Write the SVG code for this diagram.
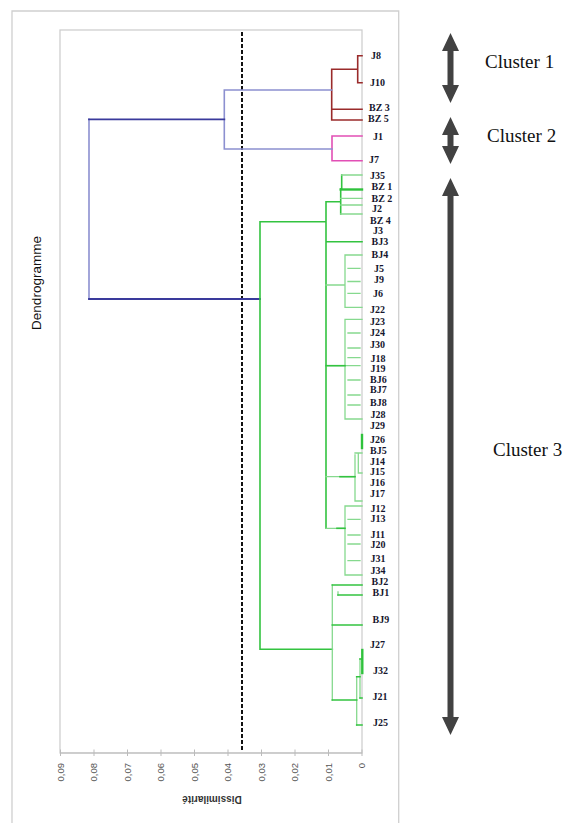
<svg xmlns="http://www.w3.org/2000/svg" width="572" height="823" viewBox="0 0 572 823">
<style>
.frame{fill:none;stroke:#cfcfcf;stroke-width:1.3}
.ln{fill:none;stroke-linecap:square}
.r{stroke:#9a2b2b;stroke-width:1.6}
.p{stroke:#e24fb5;stroke-width:1.6}
.b{stroke:#8c90d0;stroke-width:1.6}
.bd{stroke:#3a3a9c;stroke-width:1.8}
.g{stroke:#33c340;stroke-width:1.6}
.gl{stroke:#86d98e;stroke-width:1.3}
.gt{stroke:#2fc23c;stroke-width:2.4}
.leaf{font-family:"Liberation Serif","Times New Roman",serif;font-size:10px;font-weight:bold;fill:#16162e}
.tick{font-family:"Liberation Sans",Arial,sans-serif;font-size:9.5px;fill:#555}
.cl{font-family:"Liberation Serif","Times New Roman",serif;font-size:19px;fill:#111}
.arr{fill:#424242}
</style>
<g id="frames">
<path class="frame" d="M12,823 V11 H398.7 V823"/>
<rect class="frame" x="60" y="30" width="302" height="723"/>
</g>
<g id="axis">
<path d="M60,753 H362 M60.5,749.5 V756 M94,749.5 V756 M127.5,749.5 V756 M161,749.5 V756 M194.5,749.5 V756 M228,749.5 V756 M261.5,749.5 V756 M295,749.5 V756 M328.5,749.5 V756 M362,749.5 V756" stroke="#bbb" stroke-width="1" fill="none"/>
<g class="tick" text-anchor="end">
<text transform="translate(60.5,763) rotate(-90)" y="3">0,09</text>
<text transform="translate(94,763) rotate(-90)" y="3">0,08</text>
<text transform="translate(127.5,763) rotate(-90)" y="3">0,07</text>
<text transform="translate(161,763) rotate(-90)" y="3">0,06</text>
<text transform="translate(194.5,763) rotate(-90)" y="3">0,05</text>
<text transform="translate(228,763) rotate(-90)" y="3">0,04</text>
<text transform="translate(261.5,763) rotate(-90)" y="3">0,03</text>
<text transform="translate(295,763) rotate(-90)" y="3">0,02</text>
<text transform="translate(328.5,763) rotate(-90)" y="3">0,01</text>
<text transform="translate(362,763) rotate(-90)" y="3">0</text>
</g>
<text transform="translate(212,796) rotate(180)" text-anchor="middle" font-family="Liberation Sans,Arial,sans-serif" font-size="10" font-weight="bold" fill="#333">Dissimilarité</text>
<text transform="translate(41,283) rotate(-90)" text-anchor="middle" font-family="Liberation Sans,Arial,sans-serif" font-size="13.5" fill="#111">Dendrogramme</text>
</g>
<line x1="242" y1="32" x2="242" y2="752" stroke="#111" stroke-width="2" stroke-dasharray="4,2"/>
<g id="connectors" class="ln">
<path class="r" d="M357.7,55.7 H362 M357.7,82.7 H362 M357.7,55.7 V82.7 M331.7,69.3 H357.7 M331.7,69.3 V120 M331.7,109.3 H362 M331.7,120 H362"/>
<path class="p" d="M332,136 H362 M332,160.7 H362 M332,136 V160.7"/>
<path class="b" d="M224.3,90 H331.7 M224.3,149 H332 M224.3,90 V149 M89,119.3 V299"/>
<path class="bd" d="M89,119.3 H224.3 M89,299 H260"/>
<path class="g" d="M260,221.7 V649.3 M260,221.7 H326 M260,649.3 H332.3 M326,201.7 V528.3 M326,241.7 H362 M326,201.7 H340.7 M340.7,189 V214 M341.7,175 V189"/>
<path class="gl" d="M341.7,175 H362 M340.7,198.3 H362 M340.7,205 H362 M340.7,214 H362"/>
<path class="gt" d="M340.7,189.5 H362"/>
<path class="gl" d="M326,285 H345 M345,255 V307.3 M345,255 H362 M345,307.3 H362 M348,268.3 H360 M348,281.5 H360 M348,293.3 H360"/>
<path class="gl" d="M326,365.7 H360 M345,319.3 V419 M345,319.3 H362 M345,419 H362 M348,333 H360 M348,348 H360 M348,357.7 H360 M348,380 H360 M348,395 H360 M348,405 H360"/>
<path class="g" d="M326,365.7 H345"/>
<path class="gt" d="M362,435 V448"/>
<path class="gl" d="M358.3,453 V473 M355,453 H362 M358.3,473 H362 M355,455 V501 M355,501 H362 M326,476.7 H355"/>
<path class="g" d="M340,476.7 H355"/>
<path class="gl" d="M326,528.3 H345 M345,506 V575 M345,506 H362 M345,575 H362 M348,519.3 H360 M348,535 H360 M348,544 H360 M348,560.7 H360"/>
<path class="g" d="M337,528.3 H345"/>
<path class="gl" d="M332.3,585 V700 M356.7,676.7 V725 M360,659 V698 M338,592 V595"/>
<path class="g" d="M332.3,585 H362 M338,595 H362 M332.3,625 H362 M332.3,700 H356.7 M356.7,725 H362 M356.7,676.7 H360 M360,698 H362 M360,659 H362"/>
<path class="gt" d="M362.3,650 V673"/>
</g>
<g id="leaves" class="leaf">
<g id="leaf-J8"><text x="371" y="58.5">J8</text></g>
<g id="leaf-J10"><text x="370" y="86">J10</text></g>
<g id="leaf-BZ3"><text x="369" y="110.5">BZ 3</text></g>
<g id="leaf-BZ5"><text x="368" y="122">BZ 5</text></g>
<g id="leaf-J1"><text x="373" y="140">J1</text></g>
<g id="leaf-J7"><text x="369" y="162.5">J7</text></g>
<g id="leaf-J35"><text x="370" y="178.5">J35</text></g>
<g id="leaf-BZ1"><text x="371.5" y="190">BZ 1</text></g>
<g id="leaf-BZ2"><text x="371.5" y="201.5">BZ 2</text></g>
<g id="leaf-J2"><text x="372" y="211.5">J2</text></g>
<g id="leaf-BZ4"><text x="370" y="224">BZ 4</text></g>
<g id="leaf-J3"><text x="373" y="234">J3</text></g>
<g id="leaf-BJ3"><text x="371.5" y="244.5">BJ3</text></g>
<g id="leaf-BJ4"><text x="371.5" y="258">BJ4</text></g>
<g id="leaf-J5"><text x="374" y="271.5">J5</text></g>
<g id="leaf-J9"><text x="374" y="282.5">J9</text></g>
<g id="leaf-J6"><text x="373" y="296.5">J6</text></g>
<g id="leaf-J22"><text x="370" y="312.5">J22</text></g>
<g id="leaf-J23"><text x="370" y="325">J23</text></g>
<g id="leaf-J24"><text x="370" y="336">J24</text></g>
<g id="leaf-J30"><text x="370" y="348">J30</text></g>
<g id="leaf-J18"><text x="370.5" y="361.5">J18</text></g>
<g id="leaf-J19"><text x="370.5" y="372">J19</text></g>
<g id="leaf-BJ6"><text x="370" y="382.5">BJ6</text></g>
<g id="leaf-BJ7"><text x="370" y="393">BJ7</text></g>
<g id="leaf-BJ8"><text x="370" y="406">BJ8</text></g>
<g id="leaf-J28"><text x="370.5" y="418">J28</text></g>
<g id="leaf-J29"><text x="370" y="429">J29</text></g>
<g id="leaf-J26"><text x="370" y="443">J26</text></g>
<g id="leaf-BJ5"><text x="370" y="454">BJ5</text></g>
<g id="leaf-J14"><text x="370" y="464.5">J14</text></g>
<g id="leaf-J15"><text x="370" y="475">J15</text></g>
<g id="leaf-J16"><text x="370" y="485.5">J16</text></g>
<g id="leaf-J17"><text x="370" y="497">J17</text></g>
<g id="leaf-J12"><text x="370.5" y="511.5">J12</text></g>
<g id="leaf-J13"><text x="370.5" y="522">J13</text></g>
<g id="leaf-J11"><text x="370.5" y="537.5">J11</text></g>
<g id="leaf-J20"><text x="370.5" y="548">J20</text></g>
<g id="leaf-J31"><text x="370.5" y="562">J31</text></g>
<g id="leaf-J34"><text x="370.5" y="574">J34</text></g>
<g id="leaf-BJ2"><text x="371.5" y="585">BJ2</text></g>
<g id="leaf-BJ1"><text x="372.5" y="596">BJ1</text></g>
<g id="leaf-BJ9"><text x="372.5" y="623">BJ9</text></g>
<g id="leaf-J27"><text x="370" y="648">J27</text></g>
<g id="leaf-J32"><text x="373" y="674">J32</text></g>
<g id="leaf-J21"><text x="372.5" y="700">J21</text></g>
<g id="leaf-J25"><text x="373" y="726">J25</text></g>
</g>
<g id="cluster1">
<polygon class="arr" points="450.5,33 459,51 453.5,51 453.5,85 459,85 450.5,103 442,85 447.5,85 447.5,51 442,51"/>
<text class="cl" x="485" y="68">Cluster 1</text>
</g>
<g id="cluster2">
<polygon class="arr" points="450.5,117 459,135 453.5,135 453.5,146 459,146 450.5,164 442,146 447.5,146 447.5,135 442,135"/>
<text class="cl" x="487" y="142">Cluster 2</text>
</g>
<g id="cluster3">
<polygon class="arr" points="450.5,178 459,196 453.5,196 453.5,717 459,717 450.5,735 442,717 447.5,717 447.5,196 442,196"/>
<text class="cl" x="493" y="456">Cluster 3</text>
</g>
</svg>
